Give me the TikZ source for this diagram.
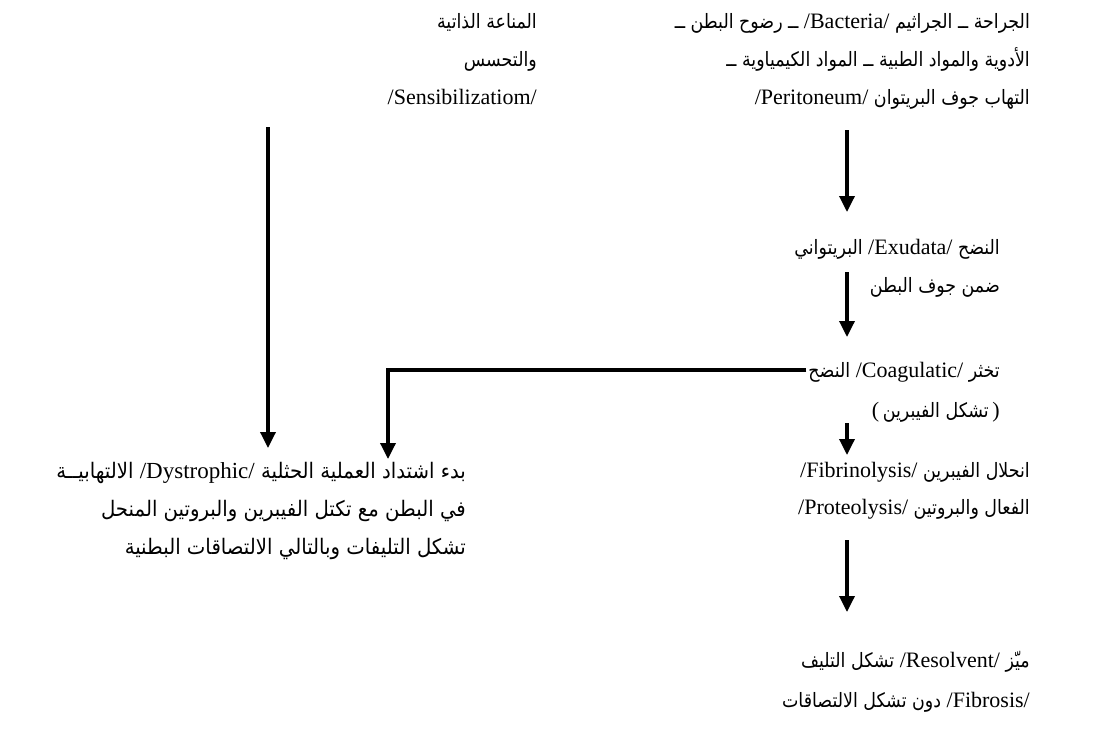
\documentclass[tikz,border=0pt]{standalone}
\usepackage{fontspec}
\setmainfont{Liberation Serif}
\newfontfamily\arfont[Script=Arabic,Scale=0.9,FakeStretch=0.88]{DejaVu Sans}
\newfontfamily\arfontE[Script=Arabic,Scale=0.93,FakeStretch=0.92]{DejaVu Sans}
\TeXXeTstate=1
\usetikzlibrary{arrows.meta,calc}
\newcommand\rl[1]{{\arfont\beginR #1\endR}}
\newcommand\rlE[1]{{\arfontE\beginR #1\endR}}
\newcommand\lat[1]{\beginL{\rmfamily #1}\endL}
\tikzset{
  line/.style={anchor=base east, inner sep=0pt, font=\fontsize{22}{28}\selectfont},
  lineE/.style={anchor=base east, inner sep=0pt, font=\fontsize{23}{29}\selectfont},
  arr/.style={line width=3.4pt, -{Triangle[length=16pt,width=15pt]}},
  elbow/.style={line width=3.4pt, -{Triangle[length=16pt,width=15pt]}, line join=miter}
}
\begin{document}
\begin{tikzpicture}[x=1pt,y=-1pt]
\useasboundingbox[fill=white] (0,0) rectangle (1093,734);
% block A
\node[line] (a1) at (1030,28) {\rl{الجراحة ــ الجراثيم \lat{/Bacteria/} ــ رضوح البطن ــ}};
\node[line] (a2) at (1030,66) {\rl{الأدوية والمواد الطبية ــ المواد الكيمياوية ــ}};
\node[line] (a3) at (1030,104) {\rl{التهاب جوف البريتوان \lat{/Peritoneum/}}};
% block B
\node[line] (b1) at (537,28) {\rl{المناعة الذاتية}};
\node[line] (b2) at (537,66) {\rl{والتحسس}};
\node[line] (b3) at (537,104) {/Sensibilizatiom/};
% block C
\node[line] (c1) at (1000,254) {\rl{النضح \lat{/Exudata/} البريتواني}};
\node[line] (c2) at (1000,292) {\rl{ضمن جوف البطن}};
% block D
\node[line] (d1) at (1000,377) {\rl{تخثر \lat{/Coagulatic/} النضح}};
\node[line] (d2) at (1000,417) {(\,\rl{تشكل الفيبرين}\,)};
% block E
\node[lineE] (e1) at (466,478) {\rlE{بدء اشتداد العملية الحثلية \lat{/Dystrophic/} الالتهابيــة}};
\node[lineE] (e2) at (466,516) {\rlE{في البطن مع تكتل الفيبرين والبروتين المنحل}};
\node[lineE] (e3) at (466,554) {\rlE{تشكل التليفات وبالتالي الالتصاقات البطنية}};
% block F
\node[line] (f1) at (1030,477) {\rl{انحلال الفيبرين \lat{/Fibrinolysis/}}};
\node[line] (f2) at (1030,514) {\rl{الفعال والبروتين \lat{/Proteolysis/}}};
% block G
\node[line] (g1) at (1030,667) {\rl{ميّز \lat{/Resolvent/} تشكل التليف}};
\node[line] (g2) at (1030,707) {\rl{\lat{/Fibrosis/} دون تشكل الالتصاقات}};
% connector columns
\coordinate (mx) at (847,0);
\coordinate (lx) at (268,0);
\coordinate (ex) at (388,0);
% connectors
\draw[arr] ($(a3.base -| mx)+(0,26)$) -- ($(c1.base -| mx)+(0,-42)$);
\draw[arr] ($(c2.base -| mx)+(0,-20)$) -- ($(d1.base -| mx)+(0,-40)$);
\draw[arr] ($(d2.base -| mx)+(0,6)$) -- ($(f1.base -| mx)+(0,-22)$);
\draw[arr] ($(f2.base -| mx)+(0,26)$) -- ($(g1.base -| mx)+(0,-55)$);
\draw[arr] ($(b3.base -| lx)+(0,23)$) -- ($(e1.base -| lx)+(0,-30)$);
\coordinate (corner) at ($(d1.base -| ex)+(0,-7)$);
\draw[elbow] ($(d1.base -| d1.west)+(-2,-7)$) -- (corner) -- ($(e1.base -| ex)+(0,-19)$);
\end{tikzpicture}
\end{document}
